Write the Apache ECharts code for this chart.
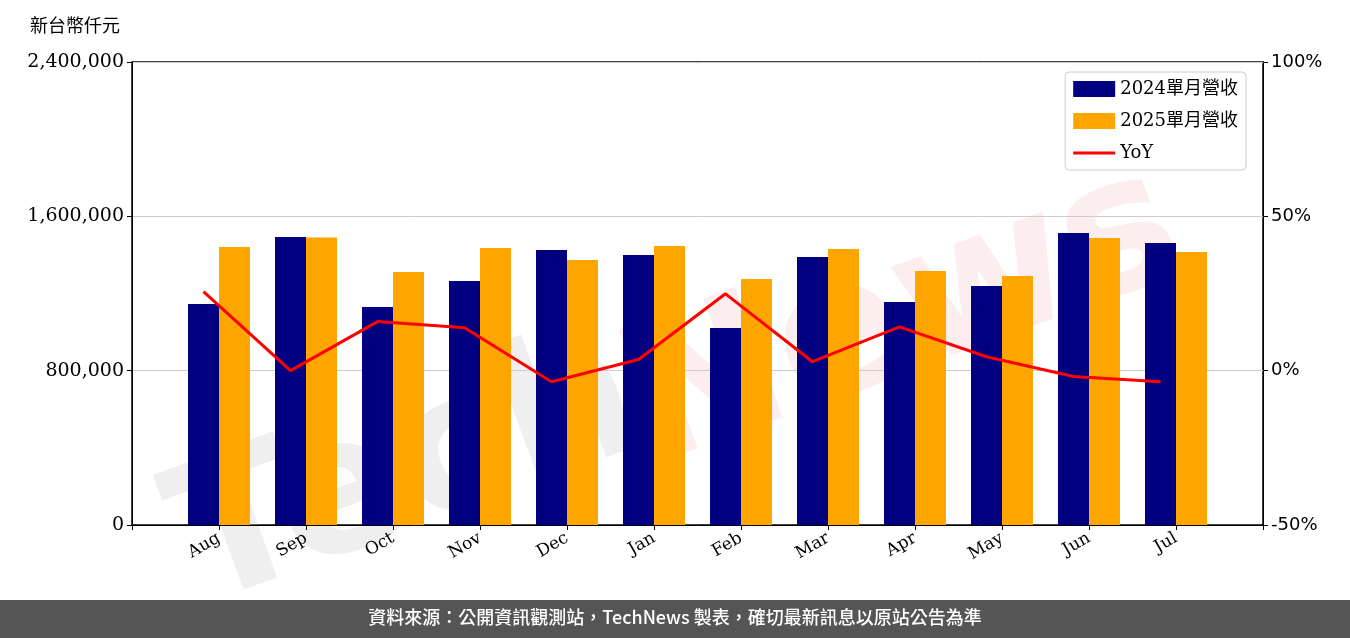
<!DOCTYPE html>
<html><head><meta charset="utf-8">
<script src="https://cdn.jsdelivr.net/npm/echarts@6/dist/echarts.min.js"></script>
<style>body{margin:0}#c{width:1350px;height:638px}</style>
</head><body><div id="c"></div>
<script>
var months = ['Aug','Sep','Oct','Nov','Dec','Jan','Feb','Mar','Apr','May','Jun','Jul'];
var rev2024 = [1145000,1493000,1130000,1265000,1425000,1400000,1021000,1389000,1156000,1239000,1514000,1462000];
var rev2025 = [1441000,1490000,1311000,1436000,1374000,1446000,1275000,1431000,1317000,1291000,1488000,1415000];
var yoy = [25.6,0,15.9,13.9,-3.6,3.6,24.9,2.9,14.2,4.5,-1.9,-3.6];

var serif = 'DejaVu Serif';
var chart = echarts.init(document.getElementById('c'));
chart.setOption({
  animation: false,
  grid: {left: 132, right: 87, top: 62, bottom: 113, show: true, borderColor: '#000', borderWidth: 1.5},
  graphic: [
    {type: 'text', left: 30, top: 16, style: {text: '新台幣仟元', font: '18px "Noto Sans CJK TC"', fill: '#000'}},
    {type: 'text', x: 150, y: 470, rotation: 0.35, z: 0, style: {text: 'Tech', font: 'bold 190px "DejaVu Sans"', fill: 'rgba(190,190,190,0.25)'}},
    {type: 'text', x: 600, y: 330, rotation: 0.35, z: 0, style: {text: 'News', font: 'bold 190px "DejaVu Sans"', fill: 'rgba(230,120,120,0.13)'}},
    {type: 'rect', left: 0, top: 600, shape: {width: 1350, height: 38}, style: {fill: '#555'}},
    {type: 'text', left: 'center', top: 608, style: {text: '資料來源：公開資訊觀測站，TechNews 製表，確切最新訊息以原站公告為準', font: '500 18px "Noto Sans CJK TC"', fill: '#fff'}}
  ],
  legend: {
    right: 104, top: 72, orient: 'vertical', itemWidth: 42, itemHeight: 16, itemGap: 14,
    backgroundColor: '#fff', borderColor: '#ccc', borderWidth: 1, borderRadius: 4, padding: [8, 8],
    textStyle: {fontFamily: serif + ',"Noto Sans CJK TC"', fontSize: 18, color: '#000'},
    data: [{name: '2024單月營收', icon: 'rect'}, {name: '2025單月營收', icon: 'rect'},
           {name: 'YoY', icon: 'path://M0,7H42V10H0Z'}]
  },
  xAxis: {
    type: 'value', min: -1, max: 12, interval: 1,
    splitLine: {show: false},
    axisLine: {lineStyle: {color: '#000'}},
    axisTick: {show: true, lineStyle: {color: '#000'}},
    axisLabel: {rotate: 30, fontFamily: serif, fontSize: 17, color: '#000', margin: 12,
      formatter: function (v) { return months[v] || ''; }}
  },
  yAxis: [
    {type: 'value', min: 0, max: 2400000, interval: 800000,
     axisLine: {show: true, onZero: false, lineStyle: {color: '#000'}}, axisTick: {show: true},
     splitLine: {lineStyle: {color: '#ccc'}},
     axisLabel: {fontFamily: serif, fontSize: 19, color: '#000',
       formatter: function (v) { return v.toLocaleString('en-US'); }}},
    {type: 'value', min: -50, max: 100, interval: 50,
     axisLine: {show: true, onZero: false, lineStyle: {color: '#000'}}, axisTick: {show: true},
     splitLine: {show: false},
     axisLabel: {fontFamily: 'DejaVu Sans', fontSize: 18, color: '#000', formatter: '{value}%'}}
  ],
  series: [
    {name: '2024單月營收', type: 'bar', barWidth: 31, barGap: '0%', itemStyle: {color: '#000080'},
     data: rev2024.map(function (v, i) { return [i, v]; })},
    {name: '2025單月營收', type: 'bar', barWidth: 31, barGap: '0%', itemStyle: {color: '#FFA500'},
     data: rev2025.map(function (v, i) { return [i, v]; })},
    {name: 'YoY', type: 'line', yAxisIndex: 1, symbol: 'none', lineStyle: {color: '#FF0000', width: 3}, itemStyle: {color: '#FF0000'},
     data: yoy.map(function (v, i) { return [i - 0.178, v]; })}
  ]
});
</script></body></html>
